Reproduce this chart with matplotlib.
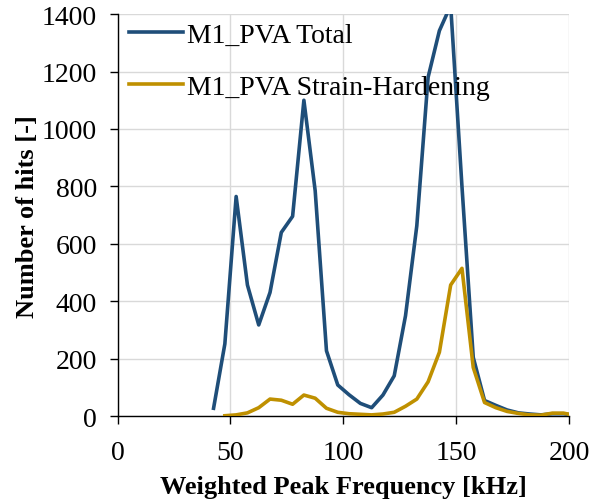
import numpy as np
import matplotlib
matplotlib.use("Agg")
import matplotlib.pyplot as plt

## Dados (centros de classe de 5 kHz)
freq_total = [42.5, 47.5, 52.5, 57.5, 62.5, 67.5, 72.5, 77.5, 82.5, 87.5,
              92.5, 97.5, 102.5, 107.5, 112.5, 117.5, 122.5, 127.5, 132.5, 137.5,
              142.5, 147.5, 152.5, 157.5, 162.5, 167.5, 172.5, 177.5, 182.5, 187.5,
              192.5, 197.5, 202.5]
hits_total = [28, 252, 765, 457, 318, 431, 640, 696, 1100, 785,
              228, 109, 75, 45, 30, 74, 141, 350, 663, 1180,
              1342, 1430, 800, 205, 55, 38, 22, 12, 8, 5,
              9, 9, 3]

freq_sh = [47.5, 52.5, 57.5, 62.5, 67.5, 72.5, 77.5, 82.5, 87.5, 92.5,
           97.5, 102.5, 107.5, 112.5, 117.5, 122.5, 127.5, 132.5, 137.5, 142.5,
           147.5, 152.5, 157.5, 162.5, 167.5, 172.5, 177.5, 182.5, 187.5, 192.5,
           197.5, 202.5]
hits_sh = [2, 5, 12, 30, 60, 56, 42, 74, 63, 28,
           14, 9, 7, 5, 8, 14, 35, 60, 120, 223,
           457, 515, 170, 48, 30, 17, 10, 5, 4, 11,
           11, 3]

x_ticks = [0, 50, 100, 150, 200]
y_ticks = [0, 200, 400, 600, 800, 1000, 1200, 1400]

plt.rcParams['font.family'] = ['Liberation Serif', 'DejaVu Serif']

fig = plt.figure(figsize=(6.03, 5.02), dpi=100)
ax = fig.add_axes([0.195, 0.1687, 0.749, 0.8013])

ax.plot(freq_total, hits_total, color='#1F4E79', lw=2.6, label='M1_PVA Total', zorder=3)
ax.plot(freq_sh, hits_sh, color='#BF9000', lw=2.6, label='M1_PVA Strain-Hardening', zorder=4)

ax.set_xlim(0, 200)
ax.set_ylim(0, 1400)
ax.set_xticks(x_ticks)
ax.set_yticks(y_ticks)
ax.grid(True, color='#D9D9D9', lw=1)
ax.set_axisbelow(True)

for s in ['top', 'right']:
    ax.spines[s].set_visible(False)
for s in ['left', 'bottom']:
    ax.spines[s].set_color('black')
    ax.spines[s].set_linewidth(1)

ax.tick_params(direction='out', length=6, width=1, labelsize=20)
ax.tick_params(axis='y', pad=9)
ax.tick_params(axis='x', pad=11)

ax.set_xlabel('Weighted Peak Frequency [kHz]', fontsize=19, fontweight='bold', labelpad=7)
ax.set_ylabel('Number of hits [-]', fontsize=19, fontweight='bold', labelpad=2)

ax.legend(loc='upper left', frameon=False, fontsize=20, handlelength=1.95,
          handletextpad=0.15, labelspacing=0.95, borderaxespad=0.0,
          bbox_to_anchor=(0.0, 1.006))

fig.savefig('out.png', dpi=100)
